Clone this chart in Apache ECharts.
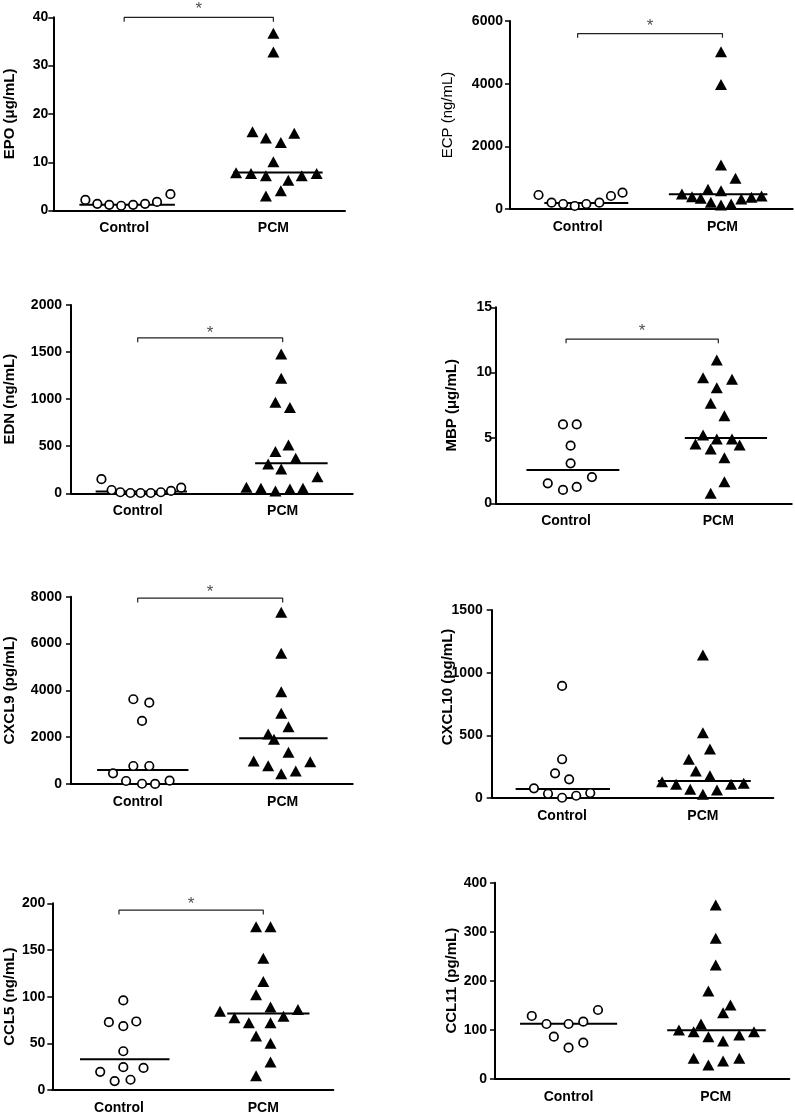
<!DOCTYPE html>
<html><head><meta charset="utf-8">
<script src="https://cdn.jsdelivr.net/npm/echarts@6/dist/echarts.min.js"></script>
<style>html,body{margin:0;padding:0;background:#fff}#c{width:795px;height:1115px}</style>
</head><body><div id="c"></div>
<script>
const categories = ['Control', 'PCM'];

// EPO
const epoTicks = [0, 10, 20, 30, 40];
const epoControl = [2.2, 1.4, 1.2, 1.0, 1.2, 1.4, 1.8, 3.4];
const epoControlJitter = [-0.26, -0.18, -0.10, -0.02, 0.06, 0.14, 0.22, 0.31];
const epoPcm = [36.7, 32.8, 16.3, 15.0, 14.1, 16.0, 10.1, 7.85, 7.7, 7.2, 6.3, 7.2, 7.7, 3.0, 4.1];
const epoPcmJitter = [0, 0, -0.14, -0.05, 0.05, 0.14, 0, -0.25, -0.15, -0.05, 0.10, 0.19, 0.29, -0.05, 0.05];
const epoMedians = [1.2, 7.9];

// ECP
const ecpTicks = [0, 2000, 4000, 6000];
const ecpControl = [447, 201, 160, 96, 160, 201, 415, 520];
const ecpControlJitter = [-0.27, -0.18, -0.10, -0.02, 0.06, 0.15, 0.23, 0.31];
const ecpPcm = [5018, 3977, 1403, 979, 478, 392, 341, 628, 584, 214, 128, 160, 319, 373, 415];
const ecpPcmJitter = [-0.01, -0.01, -0.01, 0.09, -0.28, -0.21, -0.15, -0.10, -0.01, -0.08, -0.01, 0.06, 0.13, 0.20, 0.27];
const ecpMedians = [190, 468];

// EDN
const ednTicks = [0, 500, 1000, 1500, 2000];
const ednControl = [150, 35, 11, 3, 3, 3, 11, 25, 60];
const ednControlJitter = [-0.25, -0.18, -0.12, -0.05, 0.02, 0.09, 0.16, 0.23, 0.30];
const ednPcm = [1479, 1223, 968, 911, 514, 443, 372, 312, 259, 177, 64, 53, 24, 46, 53];
const ednPcmJitter = [-0.01, -0.01, -0.05, 0.05, 0.04, -0.05, 0.09, -0.10, -0.01, 0.24, -0.25, -0.15, -0.05, 0.05, 0.14];
const ednMedians = [20, 319];

// MBP
const mbpTicks = [0, 5, 10, 15];
const mbpControl = [6.04, 6.04, 4.41, 3.06, 1.53, 2.01, 1.02, 1.25];
const mbpControlJitter = [-0.02, 0.07, 0.03, 0.03, -0.12, 0.17, -0.02, 0.07];
const mbpPcm = [10.96, 9.61, 9.49, 8.85, 7.65, 6.70, 5.23, 4.92, 4.92, 4.54, 4.46, 4.15, 3.49, 1.65, 0.77];
const mbpPcmJitter = [-0.01, -0.10, 0.09, -0.01, -0.05, 0.04, -0.10, -0.01, 0.09, -0.15, 0.14, -0.05, 0.04, 0.04, -0.05];
const mbpMedians = [2.55, 5.0];

// CXCL9
const cxcl9Ticks = [0, 2000, 4000, 6000, 8000];
const cxcl9Control = [3620, 3474, 2692, 769, 769, 457, 128, 10, 5, 141];
const cxcl9ControlJitter = [-0.03, 0.08, 0.03, -0.03, 0.08, -0.17, -0.08, 0.03, 0.12, 0.22];
const cxcl9Pcm = [7338, 5585, 3944, 3021, 2449, 2137, 1910, 1355, 983, 953, 782, 556, 440];
const cxcl9PcmJitter = [-0.01, -0.01, -0.01, -0.01, 0.04, -0.10, -0.06, 0.04, -0.20, 0.19, -0.10, 0.09, -0.01];
const cxcl9Medians = [600, 1950];

// CXCL10
const cxcl10Ticks = [0, 500, 1000, 1500];
const cxcl10Control = [894, 309, 197, 149, 77, 34, 2, 18, 40];
const cxcl10ControlJitter = [0, 0, -0.05, 0.05, -0.20, -0.10, 0, 0.10, 0.20];
const cxcl10Pcm = [1141, 521, 391, 309, 215, 178, 130, 109, 69, 30, 64, 109, 117];
const cxcl10PcmJitter = [0, 0, 0.05, -0.10, -0.05, 0.05, -0.29, -0.19, -0.09, 0, 0.10, 0.20, 0.29];
const cxcl10Medians = [72, 136];

// CCL5
const ccl5Ticks = [0, 50, 100, 150, 200];
const ccl5Control = [96, 72.7, 73.4, 68.4, 41.5, 19.5, 24.5, 23.7, 9.6, 11];
const ccl5ControlJitter = [0.03, -0.07, 0.12, 0.03, 0.03, -0.13, 0.03, 0.17, -0.03, 0.08];
const ccl5Pcm = [174.8, 174.8, 141.2, 116.3, 102.1, 89, 84.4, 86.2, 77.3, 79, 72, 72, 57.8, 50, 30.1, 15.2];
const ccl5PcmJitter = [-0.05, 0.05, 0, 0, -0.05, 0.05, -0.30, 0.24, -0.20, 0.14, -0.10, 0.05, -0.05, 0.05, 0.05, -0.05];
const ccl5Medians = [33, 82];

// CCL11
const ccl11Ticks = [0, 100, 200, 300, 400];
const ccl11Control = [128, 111.6, 111.6, 116.3, 140.2, 85.7, 63.3, 73.5];
const ccl11ControlJitter = [-0.25, -0.15, 0, 0.10, 0.20, -0.10, 0, 0.10];
const ccl11Pcm = [354.5, 286.5, 232, 179, 150.4, 134.7, 111.6, 99.4, 95.9, 95.9, 85.7, 89.2, 76.9, 41.6, 41.6, 36.1, 28];
const ccl11PcmJitter = [0, 0, 0, -0.05, 0.10, 0.05, -0.10, -0.25, -0.15, 0.26, -0.05, 0.16, 0.05, -0.15, 0.16, 0.05, -0.05];
const ccl11Medians = [112, 99];

const FONT = '"Liberation Sans", Arial, Helvetica, sans-serif';

const panels = [
  { name: 'EPO (\u03bcg/mL)', ticks: epoTicks, ctrl: epoControl, ctrlJ: epoControlJitter, pcm: epoPcm, pcmJ: epoPcmJitter, med: epoMedians,
    L: { left: 53.3, right: 345, top: 17.3, bottom: 210.6, xr: [0.525, 2.48], span: [[-0.30, 0.34], [-0.27, 0.33]], gap: 36, lm: 5, bw: 'bold', bracket: [40, 0.9, 42.5] } },
  { name: 'ECP (ng/mL)', ticks: ecpTicks, ctrl: ecpControl, ctrlJ: ecpControlJitter, pcm: ecpPcm, pcmJ: ecpPcmJitter, med: ecpMedians,
    L: { left: 510, right: 792.7, top: 21, bottom: 209, xr: [0.533, 2.485], span: [[-0.23, 0.35], [-0.37, 0.31]], gap: 55, lm: 7, bw: 'normal', bracket: [5600, 137, 5943] } },
  { name: 'EDN (ng/mL)', ticks: ednTicks, ctrl: ednControl, ctrlJ: ednControlJitter, pcm: ednPcm, pcmJ: ednPcmJitter, med: ednMedians,
    L: { left: 71, right: 352.7, top: 305, bottom: 493.3, xr: [0.54, 2.483], span: [[-0.29, 0.34], [-0.19, 0.31]], gap: 54, lm: 9, bw: 'bold', bracket: [1650, 46, 1737] } },
  { name: 'MBP (\u03bcg/mL)', ticks: mbpTicks, ctrl: mbpControl, ctrlJ: mbpControlJitter, pcm: mbpPcm, pcmJ: mbpPcmJitter, med: mbpMedians,
    L: { left: 496, right: 791.7, top: 307.3, bottom: 503.3, xr: [0.54, 2.482], span: [[-0.26, 0.35], [-0.22, 0.32]], gap: 37, lm: 4, bw: 'bold', bracket: [12.57, 0.33, 13.47] } },
  { name: 'CXCL9 (pg/mL)', ticks: cxcl9Ticks, ctrl: cxcl9Control, ctrlJ: cxcl9ControlJitter, pcm: cxcl9Pcm, pcmJ: cxcl9PcmJitter, med: cxcl9Medians,
    L: { left: 71, right: 352.7, top: 596.7, bottom: 784, xr: [0.54, 2.483], span: [[-0.28, 0.35], [-0.30, 0.31]], gap: 54, lm: 9, bw: 'bold', bracket: [7936, 184, 8363] } },
  { name: 'CXCL10 (pg/mL)', ticks: cxcl10Ticks, ctrl: cxcl10Control, ctrlJ: cxcl10ControlJitter, pcm: cxcl10Pcm, pcmJ: cxcl10PcmJitter, med: cxcl10Medians,
    L: { left: 491.7, right: 773.3, top: 610, bottom: 798, xr: [0.5, 2.5], span: [[-0.33, 0.34], [-0.32, 0.34]], gap: 36, lm: 9, bw: 'bold', bracket: null, shift: 34 } },
  { name: 'CCL5 (ng/mL)', ticks: ccl5Ticks, ctrl: ccl5Control, ctrlJ: ccl5ControlJitter, pcm: ccl5Pcm, pcmJ: ccl5PcmJitter, med: ccl5Medians,
    L: { left: 52.3, right: 333.3, top: 903.3, bottom: 1091, xr: [0.538, 2.485], span: [[-0.27, 0.35], [-0.25, 0.32]], gap: 35, lm: 7, bw: 'bold', bracket: [192.6, 4.6, 203.7] } },
  { name: 'CCL11 (pg/mL)', ticks: ccl11Ticks, ctrl: ccl11Control, ctrlJ: ccl11ControlJitter, pcm: ccl11Pcm, pcmJ: ccl11PcmJitter, med: ccl11Medians,
    L: { left: 495, right: 789.3, top: 882.7, bottom: 1078.7, xr: [0.5, 2.5], span: [[-0.33, 0.33], [-0.33, 0.34]], gap: 36, lm: 8, bw: 'bold', bracket: null } }
];

const grid = [], xAxis = [], yAxis = [], series = [];
panels.forEach((p, i) => {
  const L = p.L;
  grid.push({ left: L.left, top: L.top, width: L.right - L.left, height: L.bottom - L.top, containLabel: false });
  xAxis.push({
    gridIndex: i, type: 'value', min: L.xr[0], max: L.xr[1],
    axisLine: { show: true, onZero: false, lineStyle: { color: '#000', width: 2 } },
    axisTick: { show: false }, splitLine: { show: false },
    axisLabel: { customValues: [1, 2], formatter: v => categories[Math.round(v) - 1], color: '#000',
      fontFamily: FONT, fontWeight: 'bold', fontSize: 14, margin: 11 }
  });
  yAxis.push({
    gridIndex: i, type: 'value', min: p.ticks[0], max: p.ticks[p.ticks.length - 1], interval: p.ticks[1] - p.ticks[0],
    axisLine: { show: true, onZero: false, lineStyle: { color: '#000', width: 2 } },
    axisTick: { show: true, length: 5, lineStyle: { color: '#000', width: 1.5 } },
    splitLine: { show: false },
    axisLabel: { color: '#000', fontFamily: FONT, fontWeight: 'bold', fontSize: 14, margin: L.lm,
      formatter: v => String(v) },
    name: p.name, nameLocation: 'middle', nameGap: L.gap, nameRotate: 90, nameMoveOverlap: false,
    nameTextStyle: { color: '#000', fontFamily: FONT, fontWeight: L.bw, fontSize: 15,
      padding: L.shift ? [0, 0, 0, L.shift] : 0 }
  });
  const med = (k, c) => ({
    type: 'line', xAxisIndex: i, yAxisIndex: i, symbol: 'none', z: 3, silent: true,
    lineStyle: { color: '#000', width: 2 },
    data: [[c + L.span[k][0], p.med[k]], [c + L.span[k][1], p.med[k]]]
  });
  series.push(med(0, 1), med(1, 2));
  series.push({
    type: 'scatter', xAxisIndex: i, yAxisIndex: i, symbol: 'circle', symbolSize: 8.5, z: 4, clip: false,
    itemStyle: { color: '#fff', borderColor: '#000', borderWidth: 1.7, opacity: 1 },
    data: p.ctrl.map((v, k) => [1 + p.ctrlJ[k], v])
  });
  series.push({
    type: 'scatter', xAxisIndex: i, yAxisIndex: i, symbol: 'triangle', symbolSize: [12, 11], z: 4, clip: false,
    itemStyle: { color: '#000', opacity: 1 },
    data: p.pcm.map((v, k) => [2 + p.pcmJ[k], v])
  });
  if (L.bracket) {
    const [by, bt, sy] = L.bracket;
    series.push({
      type: 'line', xAxisIndex: i, yAxisIndex: i, symbol: 'none', clip: false, silent: true,
      lineStyle: { color: '#222', width: 1.2 },
      data: [[1, by - bt], [1, by], [2, by], [2, by - bt]]
    });
    series.push({
      type: 'scatter', xAxisIndex: i, yAxisIndex: i, symbolSize: 1, clip: false, silent: true,
      itemStyle: { color: 'rgba(0,0,0,0)' },
      label: { show: true, position: 'inside', formatter: '*', offset: [0, 4],
        color: '#222', fontFamily: FONT, fontSize: 17 },
      data: [[1.5, sy]]
    });
  }
});

const chart = echarts.init(document.getElementById('c'), null, { renderer: 'canvas' });
chart.setOption({ animation: false, backgroundColor: '#fff', grid, xAxis, yAxis, series });
</script>
</body></html>
